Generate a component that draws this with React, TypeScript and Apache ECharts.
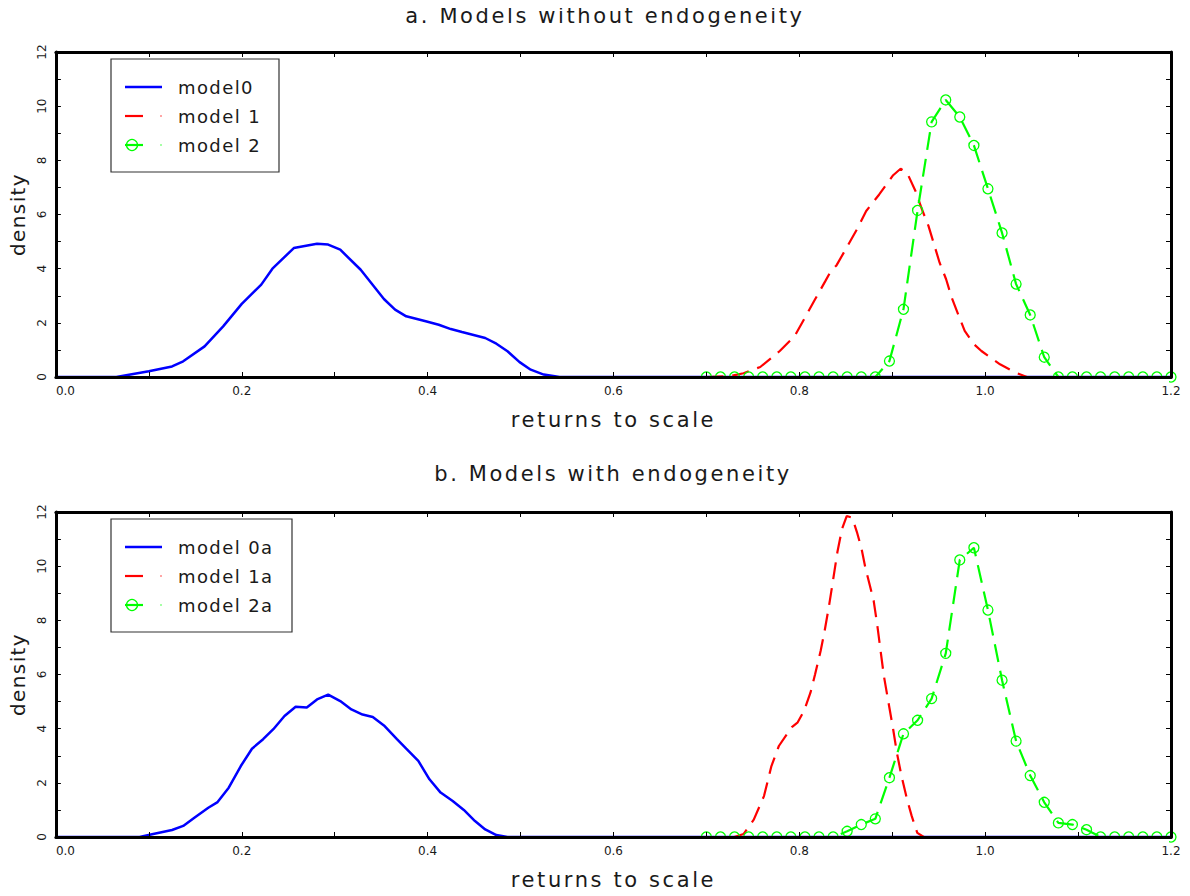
import React, { useEffect, useRef } from "react";
import * as echarts from "echarts";

const FONT = "DejaVu Sans";

const panelTitles = ["a. Models without endogeneity", "b. Models with endogeneity"];
const xAxisName = "returns to scale";
const yAxisName = "density";
const xTickLabels = ["0.0", "0.2", "0.4", "0.6", "0.8", "1.0", "1.2"];
const yTickLabels = ["0", "2", "4", "6", "8", "10", "12"];
const namesA = ["model0", "model 1", "model 2"];
const namesB = ["model 0a", "model 1a", "model 2a"];

// Panel a
const model0X = [0, 0.065, 0.1, 0.125, 0.137, 0.16, 0.18, 0.2, 0.221, 0.233, 0.256, 0.281, 0.293, 0.306, 0.328, 0.353, 0.365, 0.377, 0.398, 0.412, 0.425, 0.437, 0.462, 0.474, 0.486, 0.499, 0.511, 0.525, 0.542, 1.2];
const model0Y = [0, 0, 0.21, 0.39, 0.58, 1.13, 1.87, 2.7, 3.41, 4.0, 4.76, 4.92, 4.89, 4.7, 3.96, 2.88, 2.49, 2.24, 2.06, 1.93, 1.77, 1.66, 1.44, 1.23, 0.95, 0.55, 0.27, 0.09, 0, 0];

const model1X = [0.7, 0.725, 0.74, 0.758, 0.779, 0.795, 0.807, 0.817, 0.828, 0.834, 0.84, 0.852, 0.862, 0.872, 0.886, 0.901, 0.909, 0.916, 0.925, 0.932, 0.939, 0.945, 0.951, 0.958, 0.964, 0.971, 0.978, 0.988, 0.996, 1.016, 1.033, 1.045, 1.2];
const model1Y = [0, 0.03, 0.14, 0.37, 0.96, 1.51, 2.25, 2.87, 3.54, 3.91, 4.12, 4.84, 5.45, 6.13, 6.74, 7.45, 7.69, 7.54, 6.87, 6.19, 5.58, 4.9, 4.22, 3.61, 2.93, 2.31, 1.7, 1.21, 0.96, 0.47, 0.16, 0, 0];

const model2X = [0.7, 0.7152, 0.7303, 0.7455, 0.7606, 0.7758, 0.7909, 0.8061, 0.8212, 0.8364, 0.8515, 0.8667, 0.8818, 0.897, 0.9121, 0.9273, 0.9424, 0.9576, 0.9727, 0.9879, 1.003, 1.0182, 1.0333, 1.0485, 1.0636, 1.0788, 1.0939, 1.1091, 1.1242, 1.1394, 1.1545, 1.1697, 1.1848, 1.2];
const model2Y = [0, 0, 0, 0, 0, 0, 0, 0, 0, 0, 0, 0, 0, 0.59, 2.5, 6.15, 9.42, 10.23, 9.6, 8.55, 6.95, 5.32, 3.43, 2.29, 0.73, 0, 0, 0, 0, 0, 0, 0, 0, 0];

// Panel b
const model0aX = [0, 0.09, 0.106, 0.125, 0.137, 0.149, 0.164, 0.174, 0.186, 0.199, 0.211, 0.223, 0.234, 0.246, 0.258, 0.27, 0.281, 0.293, 0.306, 0.318, 0.33, 0.341, 0.353, 0.367, 0.377, 0.39, 0.402, 0.414, 0.427, 0.439, 0.451, 0.462, 0.474, 0.486, 1.2];
const model0aY = [0, 0, 0.12, 0.26, 0.41, 0.71, 1.08, 1.29, 1.82, 2.62, 3.26, 3.61, 3.98, 4.47, 4.81, 4.78, 5.08, 5.26, 5.02, 4.71, 4.52, 4.43, 4.12, 3.61, 3.26, 2.81, 2.13, 1.64, 1.33, 1.0, 0.59, 0.28, 0.07, 0, 0];

const model1aX = [0.7, 0.73, 0.74, 0.751, 0.762, 0.77, 0.778, 0.792, 0.798, 0.805, 0.812, 0.817, 0.823, 0.827, 0.832, 0.836, 0.841, 0.846, 0.851, 0.857, 0.862, 0.867, 0.871, 0.876, 0.88, 0.884, 0.887, 0.891, 0.896, 0.901, 0.905, 0.91, 0.916, 0.921, 0.927, 0.934, 1.2];
const model1aY = [0, 0, 0.11, 0.64, 1.51, 2.62, 3.36, 4.06, 4.22, 4.65, 5.33, 6.01, 6.88, 7.56, 8.54, 9.41, 10.52, 11.38, 11.85, 11.79, 11.26, 10.64, 9.96, 9.28, 8.73, 7.8, 7.0, 5.95, 4.96, 3.98, 3.11, 2.25, 1.38, 0.77, 0.15, 0, 0];

const model2aX = model2X;
const model2aY = [0, 0, 0, 0, 0, 0, 0, 0, 0, 0, 0.21, 0.46, 0.67, 2.19, 3.81, 4.31, 5.11, 6.78, 10.23, 10.68, 8.38, 5.79, 3.54, 2.27, 1.28, 0.52, 0.46, 0.27, 0, 0, 0, 0, 0, 0];

const BLUE = "#0000ff";
const RED = "#ff0000";
const GREEN = "#00ff00";
const INK = "#1a1a1a";

const zip = (xs: number[], ys: number[]) => xs.map((x, i) => [x, ys[i]]);

const fmtX = (v: number) => {
  const k = Math.round(v * 10);
  return k % 2 === 0 ? xTickLabels[k / 2] ?? "" : "";
};
const fmtY = (v: number) => {
  const k = Math.round(v);
  return k % 2 === 0 ? yTickLabels[k / 2] ?? "" : "";
};

// layout
const GRID_LEFT = 54;
const GRID_WIDTH = 1117;
const GRID_HEIGHT = 325;
const GRID_TOPS = [52, 512];
const TITLE_X = [600, 608];
const LEGEND_W = [168, 181];
const RED_DASH = [17, 9];
const GREEN_DASH = [18, 9];

function legendGraphic(names: string[], g: number) {
  const top = GRID_TOPS[g] + 7;
  const x0 = 111;
  const rowY = (i: number) => top + 28 + i * 29;
  const children: any[] = [
    { type: "rect", shape: { x: x0, y: top, width: LEGEND_W[g], height: 113 }, style: { fill: "#fff", stroke: "#333", lineWidth: 1.2 } },
    { type: "line", shape: { x1: 125, y1: rowY(0), x2: 162, y2: rowY(0) }, style: { stroke: BLUE, lineWidth: 2.5 } },
    { type: "line", shape: { x1: 125, y1: rowY(1), x2: 143, y2: rowY(1) }, style: { stroke: RED, lineWidth: 2.2 } },
    { type: "line", shape: { x1: 160, y1: rowY(1), x2: 162, y2: rowY(1) }, style: { stroke: RED, lineWidth: 2.2, opacity: 0.35 } },
    { type: "line", shape: { x1: 125, y1: rowY(2), x2: 143, y2: rowY(2) }, style: { stroke: GREEN, lineWidth: 2.2 } },
    { type: "circle", shape: { cx: 132, cy: rowY(2), r: 5.5 }, style: { fill: "none", stroke: GREEN, lineWidth: 1.3 } },
    { type: "line", shape: { x1: 160, y1: rowY(2), x2: 162, y2: rowY(2) }, style: { stroke: GREEN, lineWidth: 2.2, opacity: 0.35 } },
  ];
  names.forEach((n, i) => {
    children.push({
      type: "text", x: 178, y: rowY(i),
      style: { text: n, fontSize: 18, fontFamily: FONT, fill: INK, verticalAlign: "middle", textAlign: "left" },
    });
  });
  return { type: "group", z: 50, children };
}

function buildOption() {
  const grid = GRID_TOPS.map((top) => ({ left: GRID_LEFT, top, width: GRID_WIDTH, height: GRID_HEIGHT, containLabel: false }));
  const axisLine = { show: true, onZero: false, lineStyle: { color: "#000", width: 3 } };
  const axisTick = { show: true, inside: true, length: 5, lineStyle: { color: "#000", width: 1 } };
  const xAxis: any[] = [];
  const yAxis: any[] = [];
  GRID_TOPS.forEach((_, g) => {
    xAxis.push({
      type: "value", gridIndex: g, min: 0, max: 1.2, interval: 0.1, position: "bottom", z: 60,
      axisLine, axisTick, splitLine: { show: false },
      axisLabel: { formatter: fmtX, fontSize: 12, color: INK, margin: 8, fontFamily: FONT, alignMinLabel: "left" },
      name: xAxisName, nameLocation: "middle", nameGap: 32,
      nameTextStyle: { fontSize: 21, color: INK, fontFamily: FONT },
    });
    xAxis.push({
      type: "value", gridIndex: g, min: 0, max: 1.2, interval: 0.1, position: "top", z: 60,
      axisLine, axisTick, splitLine: { show: false }, axisLabel: { show: false },
    });
    yAxis.push({
      type: "value", gridIndex: g, min: 0, max: 12, interval: 1, position: "left", z: 60,
      axisLine, axisTick, splitLine: { show: false },
      axisLabel: { formatter: fmtY, rotate: 90, fontSize: 12, color: INK, margin: 8, fontFamily: FONT },
      name: yAxisName, nameLocation: "middle", nameGap: 21,
      nameTextStyle: { fontSize: 20, color: INK, fontFamily: FONT },
    });
    yAxis.push({
      type: "value", gridIndex: g, min: 0, max: 12, interval: 1, position: "right", z: 60,
      axisLine, axisTick, splitLine: { show: false }, axisLabel: { show: false },
    });
  });

  const lineSeries = (name: string, g: number, data: number[][], color: string, kind: "solid" | "dash" | "circ") => ({
    type: "line", name, xAxisIndex: g * 2, yAxisIndex: g * 2, data,
    smooth: false, clip: true,
    symbol: kind === "circ" ? "circle" : "none",
    symbolSize: 10,
    showSymbol: kind === "circ",
    itemStyle: kind === "circ" ? { color: "rgba(0,0,0,0)", borderColor: color, borderWidth: 1.3 } : { color },
    lineStyle: { color, width: kind === "solid" ? 2.5 : 2.2, type: kind === "solid" ? "solid" : kind === "dash" ? RED_DASH : GREEN_DASH },
    emphasis: { disabled: true },
  });

  const series = [
    lineSeries(namesA[0], 0, zip(model0X, model0Y), BLUE, "solid"),
    lineSeries(namesA[1], 0, zip(model1X, model1Y), RED, "dash"),
    lineSeries(namesA[2], 0, zip(model2X, model2Y), GREEN, "circ"),
    lineSeries(namesB[0], 1, zip(model0aX, model0aY), BLUE, "solid"),
    lineSeries(namesB[1], 1, zip(model1aX, model1aY), RED, "dash"),
    lineSeries(namesB[2], 1, zip(model2aX, model2aY), GREEN, "circ"),
  ];

  // white strips just below each plot's bottom frame so that the baseline circles read as clipped
  const masks = GRID_TOPS.map((top) => ({
    type: "rect", z: 40,
    shape: { x: GRID_LEFT + 2, y: top + GRID_HEIGHT + 1.6, width: GRID_WIDTH - 4, height: 5 },
    style: { fill: "#fff" },
  }));

  const title = panelTitles.map((t, g) => ({
    text: t, left: TITLE_X[g], top: g === 0 ? 0 : 458, textAlign: "center",
    textStyle: { fontSize: 21, fontWeight: "normal", color: INK, fontFamily: FONT },
  }));

  return {
    animation: false, backgroundColor: "#fff", title, grid, xAxis, yAxis, series,
    graphic: [...masks, legendGraphic(namesA, 0), legendGraphic(namesB, 1)],
  };
}

const css = `
#chart-root text[style*="21px"] { letter-spacing: 2.6px; }
#chart-root text[style*="20px"] { letter-spacing: 1.4px; }
#chart-root text[style*="18px"] { letter-spacing: 1.4px; }
`;

export default function App() {
  const ref = useRef<HTMLDivElement>(null);
  useEffect(() => {
    if (!ref.current) return;
    const chart = echarts.init(ref.current, null, { renderer: "svg" });
    chart.setOption(buildOption() as any);
    return () => chart.dispose();
  }, []);
  return (
    <>
      <style>{css}</style>
      <div id="chart-root" ref={ref} style={{ width: 1190, height: 896, margin: -8 }} />
    </>
  );
}
